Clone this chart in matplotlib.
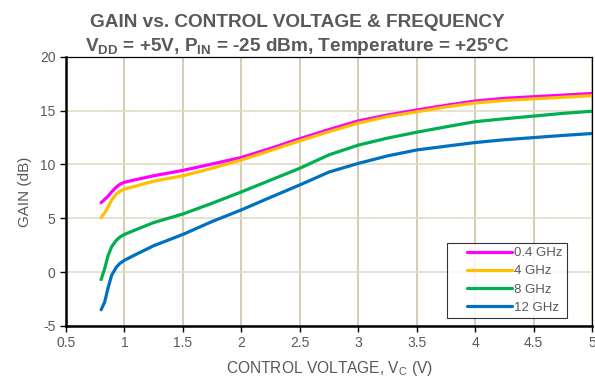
import numpy as np
import matplotlib
matplotlib.use("Agg")
import matplotlib.pyplot as plt
from matplotlib.lines import Line2D
from matplotlib.legend_handler import HandlerLine2D

plt.rcParams['font.family'] = ['Liberation Sans', 'DejaVu Sans']
plt.rcParams['axes.unicode_minus'] = False

# control voltage (V) and gain (dB)
vc = [0.8, 0.83, 0.86, 0.89, 0.93, 0.96, 1.0, 1.1, 1.25, 1.5, 1.75, 2.0, 2.25, 2.5,
      2.75, 3.0, 3.25, 3.5, 3.75, 4.0, 4.25, 4.5, 4.75, 5.0]
gain_04 = [6.45, 6.75, 7.05, 7.45, 7.9, 8.15, 8.35, 8.6, 8.95, 9.45, 10.05, 10.65, 11.5, 12.4,
           13.25, 14.05, 14.6, 15.07, 15.5, 15.9, 16.15, 16.3, 16.45, 16.6]
gain_4 = [5.05, 5.5, 6.05, 6.7, 7.25, 7.5, 7.72, 8.0, 8.45, 8.95, 9.65, 10.42, 11.3, 12.2,
          13.05, 13.85, 14.45, 14.9, 15.35, 15.72, 15.95, 16.1, 16.25, 16.4]
gain_8 = [-0.7, 0.3, 1.55, 2.35, 2.95, 3.25, 3.5, 3.95, 4.6, 5.4, 6.4, 7.45, 8.55, 9.65,
          10.9, 11.8, 12.45, 13.0, 13.5, 13.98, 14.25, 14.5, 14.75, 14.95]
gain_12 = [-3.5, -2.8, -1.45, -0.3, 0.45, 0.8, 1.1, 1.65, 2.45, 3.5, 4.7, 5.78, 6.95, 8.1,
           9.3, 10.1, 10.8, 11.35, 11.7, 12.04, 12.3, 12.5, 12.7, 12.88]

series = [gain_04, gain_4, gain_8, gain_12]
labels = ["0.4 GHz", "4 GHz", "8 GHz", "12 GHz"]
colors = ["#ff00ff", "#ffc000", "#00b050", "#0070c0"]

grey = "#595959"

fig = plt.figure(figsize=(5.95, 3.82), dpi=100)
ax = fig.add_axes([0.111, 0.147, 0.884, 0.704])

for g, lab, c in zip(series, labels, colors):
    ax.plot(vc, g, color=c, lw=2.3, label=lab, solid_capstyle='round', solid_joinstyle='round')

ax.set_xlim(0.5, 5)
ax.set_ylim(-5, 20)
ax.set_xticks(np.arange(0.5, 5.01, 0.5))
ax.set_xticklabels(["0.5", "1", "1.5", "2", "2.5", "3", "3.5", "4", "4.5", "5"])
ax.set_yticks(np.arange(-5, 21, 5))

ax.xaxis.grid(True, color="#cfc5a3", lw=1.2)
ax.yaxis.grid(True, color="#e3dcc6", lw=1.2)
ax.set_axisbelow(True)

for s in ["left", "bottom"]:
    ax.spines[s].set_linewidth(1.8)
for s in ["top", "right"]:
    ax.spines[s].set_linewidth(0.9)
ax.tick_params(direction='out', length=4, width=1, colors='black', labelcolor=grey, labelsize=10)

ax.set_xlabel(r"CONTROL VOLTAGE, V$\mathregular{_C}$ (V)", color=grey, fontsize=11.2, labelpad=6)
ax.set_ylabel("GAIN (dB)", color=grey, fontsize=11, labelpad=6)

fig.text(0.5, 0.929, "GAIN vs. CONTROL VOLTAGE & FREQUENCY", ha='center', va='baseline',
         fontsize=13.7, fontweight='bold', color=grey)
fig.text(0.5, 0.866, r"V$\mathregular{_{DD}}$ = +5V, P$\mathregular{_{IN}}$ = -25 dBm, Temperature = +25°C",
         ha='center', va='baseline', fontsize=13.7, fontweight='bold', color=grey)

leg = ax.legend(loc='lower right', bbox_to_anchor=(0.952, 0.03), fontsize=9.5, frameon=True,
                fancybox=False, edgecolor='black', handlelength=4.6, handletextpad=0.2,
                labelspacing=0.45, borderpad=0.3, borderaxespad=0, labelcolor=grey,
                handler_map={Line2D: HandlerLine2D(xpad=1.2)})
leg.get_frame().set_linewidth(0.8)

fig.savefig("out.png", dpi=100)
